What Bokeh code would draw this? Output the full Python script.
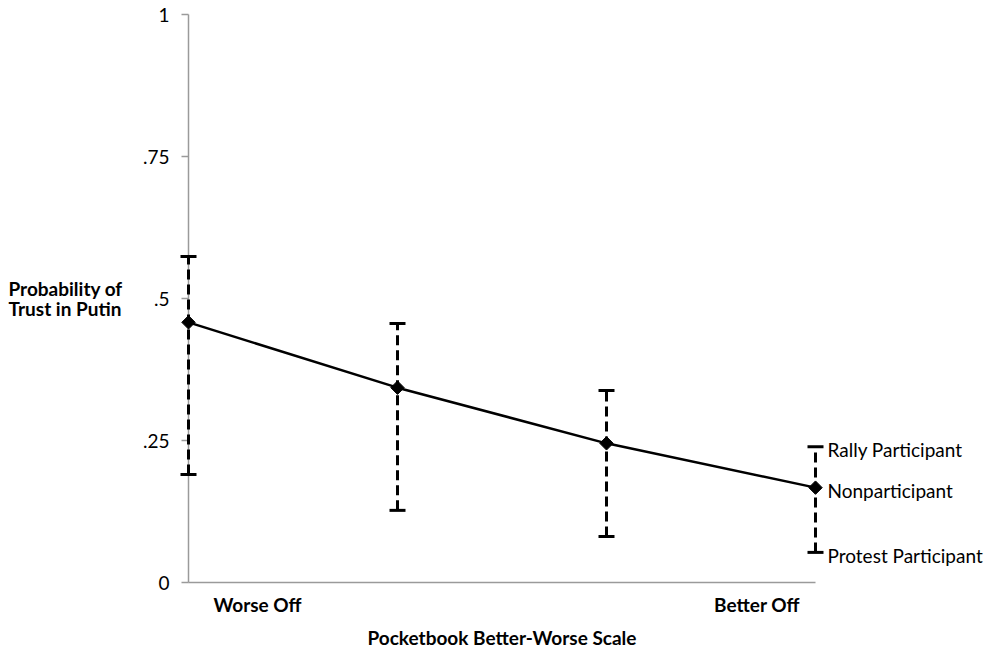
from bokeh.plotting import figure
from bokeh.models import ColumnDataSource, Whisker, TeeHead, LabelSet, Label, FixedTicker, Range1d
from bokeh.core.properties import value
from bokeh.embed import file_html
from bokeh.resources import INLINE
import numpy as np

# ---- data ----
scale_pos = [0, 1, 2, 3]
nonparticipant = [0.458, 0.343, 0.245, 0.167]
rally = [0.574, 0.456, 0.338, 0.239]
protest = [0.190, 0.127, 0.081, 0.053]

y_ticks = [0, 0.25, 0.5, 0.75, 1]
y_tick_labels = ["0", ".25", ".5", ".75", "1"]
x_tick_pos = [0.33, 2.72]
x_tick_labels = ["Worse Off", "Better Off"]
group_names = ["Rally Participant", "Nonparticipant", "Protest Participant"]
y_title = "Probability of\nTrust in Putin"

FONT = "Lato"
AX = "#9a9a9a"

# ---- layout (pixels) ----
W, H = 990, 650
X0_PX, X3_PX = 188, 815      # where x = 0 and x = 3 fall
Y0_PX, Y1_PX = 582, 14       # where y = 0 and y = 1 fall
px_per_x = (X3_PX - X0_PX) / 3.0
px_per_y = (Y0_PX - Y1_PX) / 1.0
x_start = -X0_PX / px_per_x
x_end = 3 + (W - X3_PX) / px_per_x
y_start = -(H - Y0_PX) / px_per_y
y_end = 1 + Y1_PX / px_per_y

src = ColumnDataSource(dict(x=scale_pos, y=nonparticipant, upper=rally, lower=protest))

p = figure(width=W, height=H, output_backend="svg", toolbar_location=None,
           x_range=Range1d(x_start, x_end), y_range=Range1d(y_start, y_end),
           min_border_left=0, min_border_right=0, min_border_top=0, min_border_bottom=0)
p.outline_line_color = None
p.xgrid.visible = False
p.ygrid.visible = False
p.background_fill_color = "white"

# y axis (drawn at x = 0 inside the frame)
yax = p.yaxis[0]
yax.fixed_location = 0
yax.bounds = (0, 1)
yax.ticker = FixedTicker(ticks=y_ticks)
yax.major_label_overrides = {t: l for t, l in zip(y_ticks, y_tick_labels)}
yax.axis_line_color = AX
yax.axis_line_width = 1.5
yax.major_tick_line_color = AX
yax.major_tick_line_width = 1.5
yax.major_tick_out = 7
yax.major_tick_in = 0
yax.minor_tick_line_color = None
yax.major_label_standoff = 12
yax.major_label_text_font = FONT
yax.major_label_text_font_size = "19px"
yax.major_label_text_color = "black"

# x axis (drawn at y = 0 inside the frame)
xax = p.xaxis[0]
xax.fixed_location = 0
xax.bounds = (0, 3)
xax.ticker = FixedTicker(ticks=x_tick_pos)
xax.major_label_overrides = {t: l for t, l in zip(x_tick_pos, x_tick_labels)}
xax.axis_line_color = AX
xax.axis_line_width = 1.5
xax.major_tick_line_color = None
xax.minor_tick_line_color = None
xax.major_tick_out = 0
xax.major_tick_in = 0
xax.major_label_standoff = 10
xax.major_label_text_font = FONT
xax.major_label_text_font_style = "bold"
xax.major_label_text_font_size = "19px"
xax.major_label_text_color = "black"
xax.axis_label = "Pocketbook Better-Worse Scale"
xax.axis_label_text_font = FONT
xax.axis_label_text_font_style = "bold"
xax.axis_label_text_font_size = "19px"
xax.axis_label_text_color = "black"
xax.axis_label_standoff = 7

# y axis title
p.add_layout(Label(x=0, y=0.5, x_offset=-(X0_PX - 8), text=y_title,
                   text_font=FONT, text_font_style="bold", text_font_size="19px",
                   text_align="left", text_baseline="middle", text_line_height=0.88,
                   text_color="black"))

# error bars
w = Whisker(source=src, base="x", upper="upper", lower="lower", dimension="height",
            line_color="black", line_width=3, line_dash="10 5", level="annotation",
            upper_head=TeeHead(size=16, line_width=3, line_color="black"),
            lower_head=TeeHead(size=16, line_width=3, line_color="black"))
p.add_layout(w)

# line and markers
p.line("x", "y", source=src, line_color="black", line_width=2.5, level="overlay")
p.scatter("x", "y", source=src, marker="square", angle=np.pi / 4, size=9.5,
          fill_color="black", line_color="black", level="overlay")

# group labels at the last point
lab_src = ColumnDataSource(dict(
    x=[scale_pos[-1]] * 3,
    y=[rally[-1], nonparticipant[-1], protest[-1]],
    t=group_names))
p.add_layout(LabelSet(source=lab_src, x="x", y="y", text="t", x_offset=12, y_offset=-3,
                      text_font=value(FONT), text_font_size=value("19px"), text_align="left",
                      text_baseline="middle", text_color="black"))

open("out.html", "w").write(file_html(p, INLINE))
